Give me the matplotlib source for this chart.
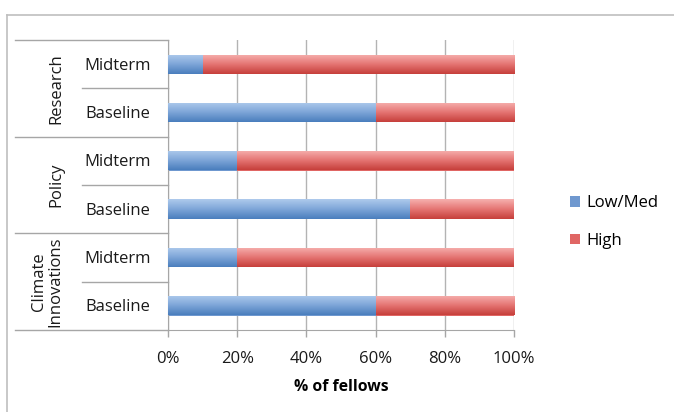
import matplotlib
matplotlib.use("Agg")
import matplotlib.pyplot as plt
import matplotlib.transforms as mtransforms
from matplotlib.colors import LinearSegmentedColormap
import numpy as np

# Data (bottom to top)
groups = ["Climate\nInnovations", "Policy", "Research"]
phases = ["Baseline", "Midterm", "Baseline", "Midterm", "Baseline", "Midterm"]
low_med = [60, 20, 70, 20, 60, 10]
high = [40, 80, 30, 80, 40, 90]
xticks = [0, 20, 40, 60, 80, 100]
xtick_labels = ["0%", "20%", "40%", "60%", "80%", "100%"]

FONT = "Open Sans"
plt.rcParams["font.family"] = [FONT, "DejaVu Sans"]

W, H = 674, 412
fig = plt.figure(figsize=(W / 100, H / 100), dpi=100)
L, R, T, B = 168, 514, 40, 330
ax = fig.add_axes([L / W, 1 - B / H, (R - L) / W, (B - T) / H])

# outer chart frame
frame_col = "#bfbfbf"
fig.add_artist(plt.Line2D([7 / W, 1.0], [1 - 15 / H] * 2, transform=fig.transFigure, color=frame_col, lw=1.2))
fig.add_artist(plt.Line2D([7 / W] * 2, [1 - 15 / H, 0], transform=fig.transFigure, color=frame_col, lw=1.2))

y = np.arange(len(phases))
bh = 0.4
blue_cmap = LinearSegmentedColormap.from_list("b", ["#4a7ebd", "#7ea6d8", "#aecaec"])
red_cmap = LinearSegmentedColormap.from_list("r", ["#c63f3b", "#e57573", "#f6b0af"])
grad = np.linspace(0, 1, 64).reshape(-1, 1)

bars_low = ax.barh(y, low_med, height=bh, color="#6f98cf", label="Low/Med", zorder=2)
bars_high = ax.barh(y, high, left=low_med, height=bh, color="#e06664", label="High", zorder=2)
for bars, cmap in ((bars_low, blue_cmap), (bars_high, red_cmap)):
    for b in bars:
        x0, y0 = b.get_x(), b.get_y()
        im = ax.imshow(grad, cmap=cmap, aspect="auto", origin="lower",
                       extent=[x0, x0 + b.get_width(), y0, y0 + b.get_height()], zorder=3)
        im.set_clip_path(b)

ax.set_xlim(0, 100)
ax.set_ylim(-0.5, len(phases) - 0.5)
ax.set_xticks(xticks)
ax.set_xticklabels(xtick_labels, fontsize=12, color="#1a1a1a")
ax.tick_params(axis="x", length=5, color="#a6a6a6", width=1, pad=10)
ax.set_yticks([])
ax.grid(axis="x", color="#b3b3b3", lw=1, zorder=0)
ax.set_axisbelow(True)
for s in ["top", "right"]:
    ax.spines[s].set_visible(False)
ax.spines["bottom"].set_color("#a6a6a6")
ax.spines["left"].set_color("#a6a6a6")
ax.set_xlabel("% of fellows", fontsize=11.3, fontweight="bold", labelpad=9)

# category label area
tr = mtransforms.blended_transform_factory(ax.transAxes, ax.transData)
span = R - L
outer_x = (15 - L) / span
inner_x = (82 - L) / span
for yy in [-0.5, 1.5, 3.5, 5.5]:
    ax.plot([outer_x, 0], [yy, yy], transform=tr, color="#a6a6a6", lw=1, clip_on=False)
for yy in [0.5, 2.5, 4.5]:
    ax.plot([inner_x, 0], [yy, yy], transform=tr, color="#a6a6a6", lw=1, clip_on=False)
for i, p in enumerate(phases):
    ax.text((118 - L) / span, i - 0.03, p, transform=tr, ha="center", va="center", fontsize=12, color="#1a1a1a")
for gi, g in enumerate(groups):
    ax.text((47 - L) / span if gi == 0 else (56 - L) / span, gi * 2 + 0.5, g, transform=tr,
            ha="center", va="center", rotation=90, fontsize=12, color="#1a1a1a", linespacing=1.05)

leg = fig.legend(handles=[bars_low, bars_high], loc="center left",
                 bbox_to_anchor=(555 / W, 1 - 222 / H), frameon=False, fontsize=12,
                 handlelength=0.6, handleheight=0.6, labelspacing=1.3, handletextpad=0.4)

fig.savefig("out.png", dpi=100)
